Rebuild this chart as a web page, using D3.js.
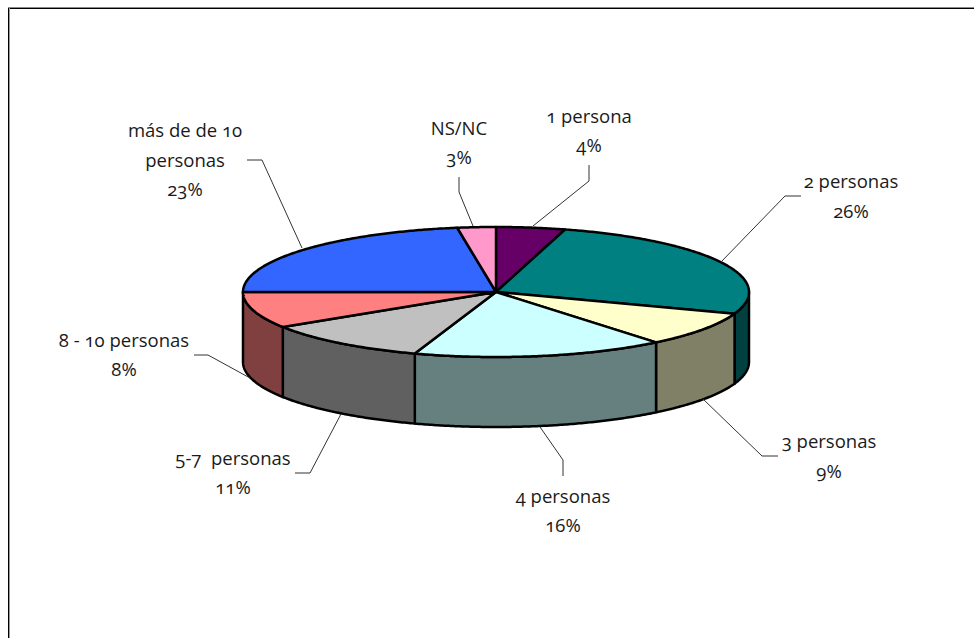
<!DOCTYPE html>
<html lang="es">
<head>
<meta charset="utf-8">
<script src="https://cdn.jsdelivr.net/npm/d3@7"></script>
<style>
html,body{margin:0;padding:0;background:#fff}
svg{display:block}
text{font-family:"Open Sans","Noto Sans",sans-serif;font-size:18.5px;fill:#1a1a1a;text-anchor:middle;font-feature-settings:"onum"}
</style>
</head>
<body>
<svg id="chart" width="974" height="638"></svg>
<script>
const categories = ["1 persona","2 personas","3 personas","4 personas","5-7  personas","8 - 10 personas","más de de 10 personas","NS/NC"];
const sliceShares = [4.4,26.0,8.7,16.1,10.75,9.05,22.55,2.45];
const percentLabels = ["4%","26%","9%","16%","11%","8%","23%","3%"];
const topColors = ["#660066","#008080","#FFFFCC","#CCFFFF","#C0C0C0","#FF8080","#3366FF","#FF99CC"];
const sideColors = ["#330033","#004040","#808066","#668080","#606060","#804040","#1A3380","#804C66"];

// layout of the text blocks and their leader lines
const labelLines = [["1 persona"],["2 personas"],["3 personas"],["4 personas"],["5-7  personas"],["8 - 10 personas"],["más de de 10","personas"],["NS/NC"]];
const labelX = [589,851,829,563,233,124,185,459];
const labelY = [123,188,448,503,465,347,137,135];
const rowGap = [28.5,29.5,29.5,29,29,28.5,29.5,28.5];
const leaders = [
  [[589,165],[589,181],[533,226]],
  [[801,196],[785,196],[721,262]],
  [[778,456],[762,456],[703,399]],
  [[563,476],[563,460],[540,427]],
  [[295,473],[310,473],[341,414]],
  [[194,355],[208,355],[250,378]],
  [[247,160],[262,160],[302,248]],
  [[459,177],[459,192],[473,226]]
];

const W = 974, H = 638;
const cx = 496, cy = 292, rx = 253, ry = 65, depth = 70;
const svg = d3.select("#chart");

// partial frame: only the top and left edges show
const frame = svg.append("g").attr("shape-rendering","crispEdges");
frame.append("rect").attr("x",8).attr("y",7).attr("width",W-8).attr("height",1).attr("fill","#888");
frame.append("rect").attr("x",8).attr("y",8).attr("width",W-8).attr("height",1).attr("fill","#000");
frame.append("rect").attr("x",9).attr("y",8).attr("width",1).attr("height",H-8).attr("fill","#999");
frame.append("rect").attr("x",8).attr("y",8).attr("width",1).attr("height",H-8).attr("fill","#000");

const x = d3.scaleLinear().domain([-1,1]).range([cx-rx,cx+rx]);
const y = d3.scaleLinear().domain([-1,1]).range([cy-ry,cy+ry]);

const pie = d3.pie().sort(null).value(d=>d);
const arcs = pie(sliceShares);
const line = d3.line();
const STEP = Math.PI/360;

function angles(a0,a1){
  const n = Math.max(2,Math.ceil((a1-a0)/STEP));
  return d3.range(n+1).map(i=>a0+(a1-a0)*i/n);
}
const rimX = a=>x(Math.sin(a));
const rimY = a=>y(-Math.cos(a));

const mark = svg.append("g").attr("stroke","#000").attr("stroke-width",2.5).attr("stroke-linejoin","round");

// front wall: only the part of each slice facing the viewer
mark.append("g").selectAll("path")
  .data(arcs.filter(d=>d.endAngle>Math.PI/2 && d.startAngle<Math.PI*1.5))
  .join("path")
  .attr("fill",d=>sideColors[d.index])
  .attr("d",d=>{
    const as = angles(Math.max(d.startAngle,Math.PI/2),Math.min(d.endAngle,Math.PI*1.5));
    const upper = as.map(a=>[rimX(a),rimY(a)]);
    const lower = as.slice().reverse().map(a=>[rimX(a),rimY(a)+depth]);
    return line(upper.concat(lower))+"Z";
  });

// top face
mark.append("g").selectAll("path")
  .data(arcs)
  .join("path")
  .attr("fill",d=>topColors[d.index])
  .attr("d",d=>{
    const pts = angles(d.startAngle,d.endAngle).map(a=>[rimX(a),rimY(a)]);
    return line([[x(0),y(0)]].concat(pts))+"Z";
  });

// leader lines
const leaderG = svg.append("g").attr("fill","none");
leaderG.selectAll("path").data(leaders).join("path")
  .attr("d",line).attr("stroke","#333").attr("stroke-width",1);

// labels
const lab = svg.append("g").selectAll("text").data(categories).join("text")
  .attr("x",(d,i)=>labelX[i]).attr("y",(d,i)=>labelY[i])
  .style("white-space","pre");
lab.each(function(d,i){
  const t = d3.select(this);
  const rows = labelLines[i].concat([percentLabels[i]]);
  rows.forEach((r,k)=>{
    t.append("tspan").attr("x",labelX[i]).attr("dy",k===0?0:rowGap[i]).text(r);
  });
});
</script>
</body>
</html>
